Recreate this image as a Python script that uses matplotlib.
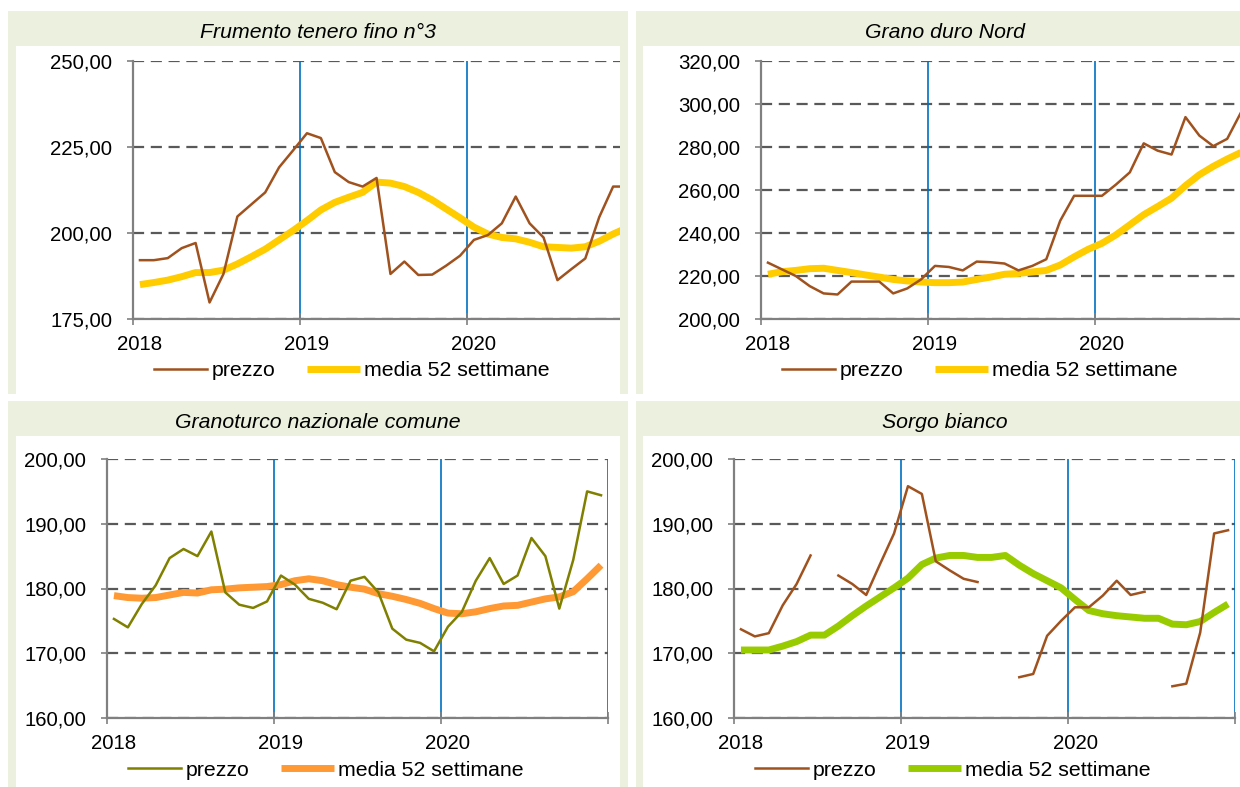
import numpy as np
import matplotlib
matplotlib.use("Agg")
import matplotlib.pyplot as plt
from matplotlib.patches import Rectangle
from matplotlib.ticker import FuncFormatter, FixedLocator
from matplotlib.transforms import ScaledTranslation

plt.rcParams['font.family'] = ['Liberation Sans', 'DejaVu Sans']

W, H = 1240, 787
nan = np.nan

# mesi gen 2018 - dic 2020
mesi = 2018 + (np.arange(36) + 0.5) / 12
anni = [2018, 2019, 2020, 2021]
etichette_anni = ["2018", "2019", "2020", ""]

# Frumento tenero fino n°3
frumento_prezzo = [192.1, 192.1, 192.7, 195.6, 197.1, 179.8, 188.1, 204.8, 208.3, 211.8, 219.1, 224.0,
                   229.0, 227.6, 217.7, 214.8, 213.5, 216.0, 188.1, 191.7, 187.8, 187.9, 190.5, 193.4,
                   198.0, 199.4, 202.8, 210.6, 202.8, 198.7, 186.3, 189.5, 192.6, 204.6, 213.5, 213.5]
frumento_media = [185.0, 185.6, 186.3, 187.3, 188.5, 188.5, 189.2, 191.0, 193.1, 195.3, 198.0, 200.7,
                  203.6, 206.7, 208.9, 210.4, 211.8, 214.8, 214.5, 213.5, 211.8, 209.6, 207.0, 204.4,
                  201.7, 199.7, 198.7, 198.3, 197.3, 196.0, 195.8, 195.6, 196.0, 197.6, 199.7, 201.5]

# Grano duro Nord
duro_prezzo = [226.2, 223.1, 220.0, 215.3, 211.9, 211.4, 217.4, 217.4, 217.4, 211.9, 214.2, 218.4,
               224.7, 224.2, 222.6, 226.7, 226.4, 225.8, 222.6, 224.7, 227.8, 245.7, 257.3, 257.3,
               257.3, 262.5, 268.2, 281.7, 278.3, 276.5, 293.9, 285.3, 280.4, 283.8, 296.2, 299.0]
duro_media = [220.8, 222.0, 222.6, 223.4, 223.6, 222.6, 221.6, 220.5, 219.5, 218.4, 217.7, 217.2,
              216.9, 216.9, 217.2, 218.4, 219.5, 220.8, 221.2, 221.9, 222.6, 225.1, 228.9, 232.4,
              235.2, 239.1, 243.8, 248.5, 252.3, 256.2, 262.0, 267.1, 271.0, 274.4, 277.5, 280.0]

# Granoturco nazionale comune
mais_prezzo = [175.3, 174.0, 177.6, 180.5, 184.7, 186.1, 185.0, 188.8, 179.4, 177.5, 177.0, 178.0,
               182.0, 180.6, 178.4, 177.8, 176.8, 181.2, 181.8, 179.4, 173.8, 172.1, 171.6, 170.3,
               174.1, 176.4, 181.2, 184.7, 180.7, 182.0, 187.8, 185.0, 176.9, 184.4, 195.0, 194.4]
mais_media = [178.9, 178.6, 178.5, 178.6, 179.0, 179.4, 179.3, 179.8, 179.9, 180.1, 180.2, 180.3,
              180.6, 181.2, 181.5, 181.2, 180.6, 180.2, 179.9, 179.2, 178.8, 178.3, 177.7, 176.9,
              176.2, 176.1, 176.4, 176.9, 177.3, 177.4, 177.9, 178.4, 178.7, 179.5, 181.5, 183.6]

# Sorgo bianco
sorgo_prezzo = [173.7, 172.6, 173.1, 177.4, 180.7, 185.1, nan, 182.0, 180.7, 179.0, 183.8, 188.5,
                195.8, 194.6, 184.2, 182.8, 181.5, 181.0, nan, nan, 166.3, 166.8, 172.7, 175.0,
                177.1, 177.1, 178.9, 181.2, 179.0, 179.5, nan, 164.9, 165.3, 173.2, 188.5, 189.0]
sorgo_media = [170.5, 170.5, 170.5, 171.1, 171.8, 172.8, 172.8, 174.2, 175.8, 177.3, 178.7, 180.1,
               181.6, 183.7, 184.7, 185.1, 185.1, 184.8, 184.8, 185.1, 183.6, 182.3, 181.2, 180.1,
               178.3, 176.6, 176.1, 175.8, 175.6, 175.4, 175.4, 174.5, 174.4, 174.9, 176.3, 177.6]

pannelli = [
    dict(titolo="Frumento tenero fino n°3", box=(8, 11, 628, 394), ax=(133, 634, 61, 319),
         ylim=(175, 250), ystep=25, p=frumento_prezzo, m=frumento_media, cp="#A0521E", cm="#FFCC00"),
    dict(titolo="Grano duro Nord", box=(635, 11, 1255, 394), ax=(761, 1262, 61, 319),
         ylim=(200, 320), ystep=20, p=duro_prezzo, m=duro_media, cp="#A0521E", cm="#FFCC00"),
    dict(titolo="Granoturco nazionale comune", box=(8, 401, 628, 790), ax=(107, 608, 459, 718),
         ylim=(160, 200), ystep=10, p=mais_prezzo, m=mais_media, cp="#808000", cm="#FF9933"),
    dict(titolo="Sorgo bianco", box=(635, 401, 1255, 790), ax=(734, 1235, 459, 718),
         ylim=(160, 200), ystep=10, p=sorgo_prezzo, m=sorgo_media, cp="#A0521E", cm="#99CC00"),
]

VERDE = "#EBF1DE"
fig = plt.figure(figsize=(W / 100, H / 100), dpi=100)
fig.patch.set_facecolor("white")


def rett(x0, y0, x1, y1, colore, z):
    fig.patches.append(Rectangle((x0 / W, 1 - y1 / H), (x1 - x0) / W, (y1 - y0) / H,
                                 transform=fig.transFigure, facecolor=colore,
                                 edgecolor="none", zorder=z))


fmt = FuncFormatter(lambda v, pos: f"{v:.2f}".replace(".", ","))
sposta = ScaledTranslation(0.07, 0, fig.dpi_scale_trans)

for p in pannelli:
    x0, y0, x1, y1 = p["box"]
    # cornice verde con area interna bianca
    rett(x0, y0, x1, y1, VERDE, -10)
    rett(x0 + 8, y0 + 35, x1 - 8, y1, "white", -9)
    # bordi che tagliano il grafico
    rett(x1 - 8, y0 + 35, x1, y1, VERDE, 10)
    rett(x1, y0, x1 + 8, y1, "white", 10)
    fig.text((x0 + x1) / 2 / W, 1 - (y0 + 21) / H, p["titolo"], ha="center", va="center",
             fontsize=15.3, style="italic", zorder=11)

    l, r, t, b = p["ax"]
    ax = fig.add_axes([l / W, 1 - b / H, (r - l) / W, (b - t) / H])
    ax.set_facecolor("none")
    ax.set_xlim(2018, 2021)
    ax.set_ylim(*p["ylim"])
    yt = np.arange(p["ylim"][0], p["ylim"][1] + 1, p["ystep"])
    ax.xaxis.set_major_locator(FixedLocator(anni))
    ax.yaxis.set_major_locator(FixedLocator(yt))
    ax.yaxis.set_major_formatter(fmt)
    ax.set_xticklabels(etichette_anni)
    for s in ["top", "right"]:
        ax.spines[s].set_visible(False)
    for s in ["left", "bottom"]:
        ax.spines[s].set_color("#808080")
        ax.spines[s].set_linewidth(1.6)
    ax.tick_params(axis="y", direction="out", length=4, width=1.2, color="#808080",
                   pad=11, labelsize=14.7)
    ax.tick_params(axis="x", direction="inout", length=8, width=1.2, color="#808080",
                   pad=7.5, labelsize=14.7)
    for lab in ax.get_xticklabels():
        lab.set_transform(lab.get_transform() + sposta)

    for yv in yt:
        ax.axhline(yv, color="#595959", lw=1.6, ls=(0, (5, 3)), zorder=1)
    for a in anni[1:]:
        ax.axvline(a, color="#0070C0", lw=1.2, zorder=1.5)

    ax.plot(mesi, p["p"], color=p["cp"], lw=1.8, zorder=3, label="prezzo")
    ax.plot(mesi, p["m"], color=p["cm"], lw=5, zorder=2, label="media 52 settimane",
            solid_capstyle="butt")

    h, lb = ax.get_legend_handles_labels()
    leg = ax.legend(h, lb, ncol=2, loc="center", frameon=False, fontsize=15.3,
                    bbox_to_anchor=((l + 219) / W, 1 - (b + 52) / H),
                    bbox_transform=fig.transFigure, handlelength=2.5,
                    handletextpad=0.2, columnspacing=1.5, borderpad=0)
    leg.set_zorder(11)

fig.savefig("out.png", dpi=100)
